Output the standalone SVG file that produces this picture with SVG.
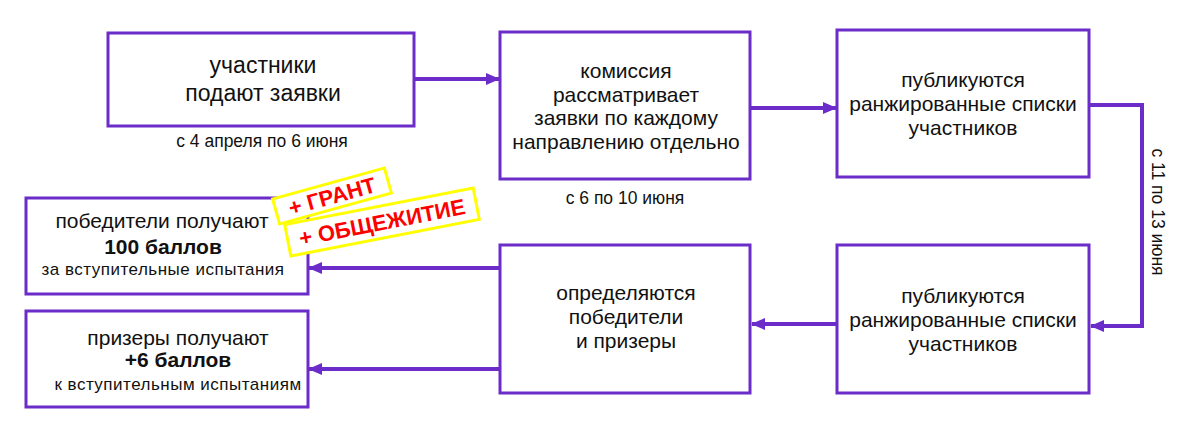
<svg xmlns="http://www.w3.org/2000/svg" width="1200" height="440" viewBox="0 0 1200 440">
<style>
.box{fill:#ffffff;stroke:#6b2cc9;stroke-width:3}
.t{font-family:"Liberation Sans",Arial,sans-serif;fill:#111111;text-anchor:middle}
.m{font-size:21px}
.b{font-size:21px;font-weight:bold}
.s{font-size:17px;letter-spacing:0.5px}
.d{font-size:17.5px}
.con{fill:none;stroke:#6b2cc9;stroke-width:4}
.stk{fill:#ffffff;stroke:#ffff00;stroke-width:3}
.st{font-family:"Liberation Sans",Arial,sans-serif;font-weight:bold;font-size:22px;fill:#ff0000;text-anchor:middle}
</style>
<defs>
<marker id="ah" markerUnits="userSpaceOnUse" markerWidth="14" markerHeight="12" refX="13" refY="6" orient="auto">
<path d="M0,0 L14,6 L0,12 Z" fill="#6b2cc9"/>
</marker>
</defs>
<rect width="1200" height="440" fill="#ffffff"/>
<g id="connectors">
<path class="con" d="M414,79 H499" marker-end="url(#ah)"/>
<path class="con" d="M750,108 H836" marker-end="url(#ah)"/>
<path class="con" d="M1089,105 H1142 V326 H1091" marker-end="url(#ah)"/>
<path class="con" d="M837,324 H752" marker-end="url(#ah)"/>
<path class="con" d="M500,268 H309" marker-end="url(#ah)"/>
<path class="con" d="M500,369 H309" marker-end="url(#ah)"/>
</g>
<g id="n1">
<rect class="box" x="108" y="33" width="306" height="93"/>
<text class="t" x="263" y="73" font-size="23">участники</text>
<text class="t" x="263" y="101" font-size="23">подают заявки</text>
</g>
<text class="t d" x="262" y="147">с 4 апреля по 6 июня</text>
<g id="n2">
<rect class="box" x="500" y="32" width="250" height="147"/>
<text class="t m" x="626" y="78">комиссия</text>
<text class="t m" x="626" y="101.5">рассматривает</text>
<text class="t m" x="626" y="125">заявки по каждому</text>
<text class="t m" x="626" y="148.5">направлению отдельно</text>
</g>
<text class="t d" x="625" y="204">с 6 по 10 июня</text>
<g id="n3">
<rect class="box" x="837" y="30" width="252" height="147"/>
<text class="t m" x="963" y="87">публикуются</text>
<text class="t m" x="963" y="111">ранжированные списки</text>
<text class="t m" x="963" y="135">участников</text>
</g>
<text class="t d" transform="translate(1152,212) rotate(90)" x="0" y="0">с 11 по 13 июня</text>
<g id="n4">
<rect class="box" x="837" y="245" width="252" height="148"/>
<text class="t m" x="963" y="303">публикуются</text>
<text class="t m" x="963" y="327">ранжированные списки</text>
<text class="t m" x="963" y="351">участников</text>
</g>
<g id="n5">
<rect class="box" x="500" y="245" width="250" height="148"/>
<text class="t m" x="626" y="300">определяются</text>
<text class="t m" x="626" y="324">победители</text>
<text class="t m" x="626" y="348">и призеры</text>
</g>
<g id="n6">
<rect class="box" x="26" y="198" width="282" height="96"/>
<text class="t m" x="162" y="228" font-size="20">победители получают</text>
<text class="t b" x="163" y="254">100 баллов</text>
<text class="t s" x="163" y="275">за вступительные испытания</text>
</g>
<g id="n7">
<rect class="box" x="26" y="311" width="282" height="96"/>
<text class="t m" x="178" y="345" font-size="20">призеры получают</text>
<text class="t b" x="178" y="367">+6 баллов</text>
<text class="t s" x="178" y="390">к вступительным испытаниям</text>
</g>
<g id="sticker-grant" transform="translate(332,196) rotate(-15.5)">
<rect class="stk" x="-58" y="-13" width="116" height="26"/>
<text class="st" x="0" y="8">+ ГРАНТ</text>
</g>
<g id="sticker-dorm" transform="translate(382,222) rotate(-11)">
<rect class="stk" x="-96" y="-16" width="192" height="32"/>
<text class="st" x="0" y="8">+ ОБЩЕЖИТИЕ</text>
</g>
</svg>
